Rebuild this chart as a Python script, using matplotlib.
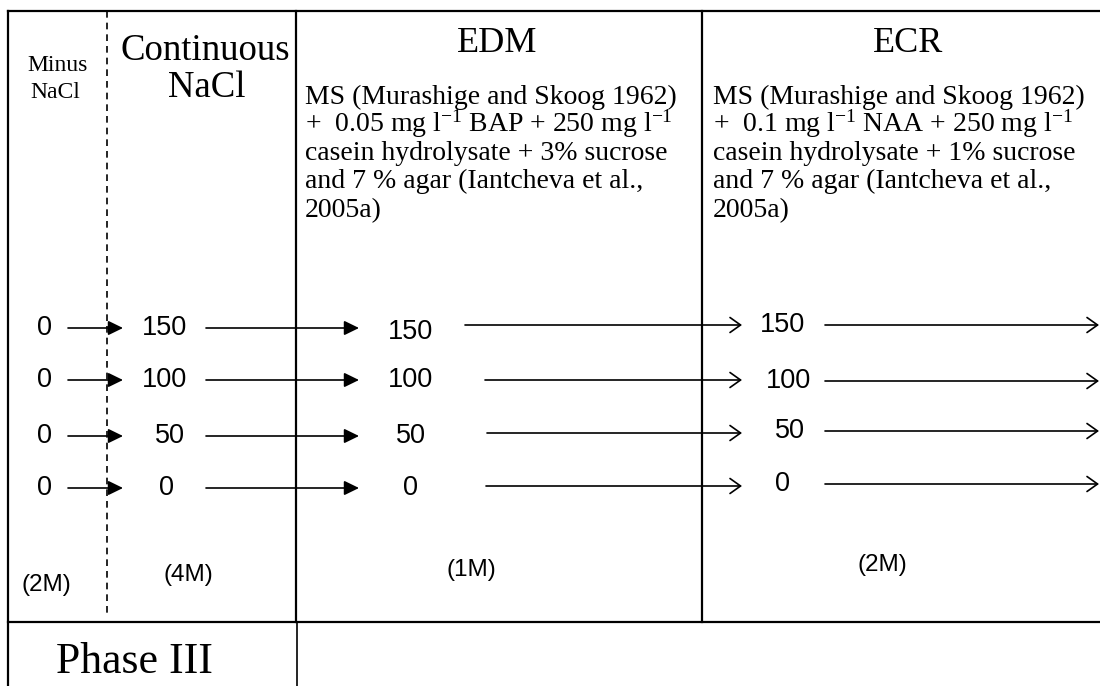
import matplotlib
matplotlib.use("Agg")
import matplotlib.pyplot as plt

plt.rcParams['mathtext.fontset'] = 'custom'
plt.rcParams['mathtext.rm'] = 'Liberation Serif'
plt.rcParams['mathtext.default'] = 'regular'

# ---- content ----
stage_titles = ["Minus\nNaCl", "Continuous\nNaCl", "EDM", "ECR"]
durations = ["(2M)", "(4M)", "(1M)", "(2M)"]
start_conc = [0, 0, 0, 0]          # mM NaCl before treatment
nacl_conc = [150, 100, 50, 0]      # mM NaCl in treatments
edm_medium = ["MS (Murashige and Skoog 1962)",
              "+  0.05 mg l$^{-1}$ BAP + 250 mg l$^{-1}$",
              "casein hydrolysate + 3% sucrose",
              "and 7 % agar (Iantcheva et al.,",
              "2005a)"]
ecr_medium = ["MS (Murashige and Skoog 1962)",
              "+  0.1 mg l$^{-1}$ NAA + 250 mg l$^{-1}$",
              "casein hydrolysate + 1% sucrose",
              "and 7 % agar (Iantcheva et al.,",
              "2005a)"]
phase_label = "Phase III"

# ---- layout ----
fig = plt.figure(figsize=(11, 6.86), dpi=100)
ax = fig.add_axes([0, 0, 1, 1])
ax.set_xlim(0, 1100)
ax.set_ylim(686, 0)
ax.axis('off')

SERIF = 'Liberation Serif'
SANS = 'Liberation Sans'
lw = 1.6

# frame lines
ax.plot([8, 1100], [11, 11], color='black', lw=lw)
ax.plot([8, 8], [11, 686], color='black', lw=lw)
ax.plot([107, 107], [11, 615], color='black', lw=1.2, dashes=(4, 3))
ax.plot([296, 296], [11, 622], color='black', lw=lw)
ax.plot([297, 297], [622, 686], color='black', lw=1.2)
ax.plot([702, 702], [11, 622], color='black', lw=lw)
ax.plot([8, 1100], [622, 622], color='black', lw=lw)

# stage titles
minus_l, cont_l = stage_titles[0].split("\n"), stage_titles[1].split("\n")
ax.text(58, 71, minus_l[0], family=SERIF, fontsize=17, ha='center', va='baseline')
ax.text(55, 98, minus_l[1], family=SERIF, fontsize=17, ha='center', va='baseline')
ax.text(205, 60, cont_l[0], family=SERIF, fontsize=26.5, ha='center', va='baseline')
ax.text(207, 97, cont_l[1], family=SERIF, fontsize=26.5, ha='center', va='baseline')
ax.text(497, 52, stage_titles[2], family=SERIF, fontsize=26, ha='center', va='baseline')
ax.text(908, 52, stage_titles[3], family=SERIF, fontsize=26, ha='center', va='baseline')

# media descriptions
base_y = [104, 132, 160, 188, 217]
for line, y in zip(edm_medium, base_y):
    ax.text(305, y, line, family=SERIF, fontsize=20, ha='left', va='baseline')
for line, y in zip(ecr_medium, base_y):
    ax.text(713, y, line, family=SERIF, fontsize=20, ha='left', va='baseline')

# concentration rows
row_y = [328, 380, 436, 488]
ecr_y = [325, 381, 431, 484]
long_y = [325, 380, 433, 486]
long_x0 = [465, 485, 487, 486]
cont_x = [165, 165, 170, 167]
ecr_x = [783, 788, 790, 783]

filled = dict(arrowstyle='-|>,head_length=0.45,head_width=0.22', lw=1.2,
              color='black', shrinkA=0, shrinkB=0, mutation_scale=20)
opened = dict(arrowstyle='->,head_length=0.38,head_width=0.27', lw=1.2,
              color='black', shrinkA=0, shrinkB=0, mutation_scale=20)

for i in range(len(nacl_conc)):
    y = row_y[i]
    ax.text(45, y, str(start_conc[i]), family=SANS, fontsize=19.5, ha='center', va='center')
    ax.annotate("", xy=(123, y), xytext=(68, y), arrowprops=filled)
    ax.text(cont_x[i], y, str(nacl_conc[i]), family=SANS, fontsize=19.5, ha='center', va='center')
    ax.annotate("", xy=(359, y), xytext=(206, y), arrowprops=filled)
    ax.text(411, y + (4 if i == 0 else 0), str(nacl_conc[i]), family=SANS, fontsize=19.5,
            ha='center', va='center')
    ax.annotate("", xy=(742, long_y[i]), xytext=(long_x0[i], long_y[i]), arrowprops=opened)
    ax.text(ecr_x[i], ecr_y[i], str(nacl_conc[i]), family=SANS, fontsize=19.5, ha='center', va='center')
    ax.annotate("", xy=(1099, ecr_y[i]), xytext=(825, ecr_y[i]), arrowprops=opened,
                annotation_clip=False)

# durations
dur_pos = [(46, 585), (188, 575), (471, 570), (882, 565)]
for lab, (x, y) in zip(durations, dur_pos):
    ax.text(x, y, lab, family=SANS, fontsize=17.5, ha='center', va='center')

# phase
ax.text(134, 673, phase_label, family=SERIF, fontsize=31.5, ha='center', va='baseline')

fig.savefig("out.png", dpi=100)
